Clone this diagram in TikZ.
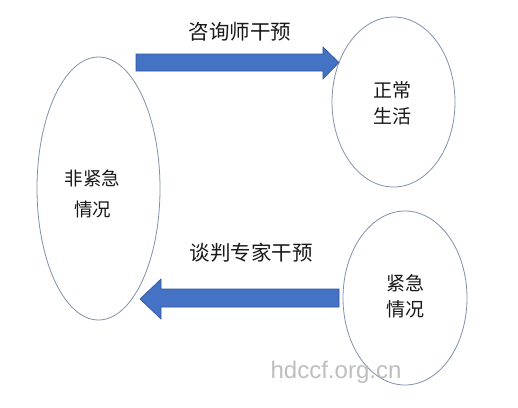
\documentclass[tikz,border=0pt]{standalone}
\usepackage{fontspec}
\newfontfamily\cjk{Noto Sans CJK SC}
\newfontfamily\wmfont{Liberation Sans}
\usetikzlibrary{shapes.geometric,calc}
\definecolor{arrowblue}{HTML}{4472C4}
\definecolor{arrowedge}{HTML}{2F5597}
\definecolor{ellline}{HTML}{8190AB}
\tikzset{
  oval/.style={draw=ellline, line width=0.8pt, ellipse, inner sep=0pt},
  intext/.style={font=\cjk\fontsize{19}{26}\selectfont, align=center, inner sep=0pt, text=black!90},
  arrlabel/.style={font=\cjk\fontsize{20.5}{24}\selectfont, inner sep=0pt, text=black!90},
  blockarrow/.style={fill=arrowblue, draw=arrowedge, line width=0.6pt, line join=miter},
}
\begin{document}
\begin{tikzpicture}[x=1pt,y=-1pt]
\useasboundingbox[fill=white] (0,0) rectangle (518,407);
% ellipses
\node[oval, minimum width=123pt, minimum height=263pt] (nonurgent) at (98.5,188.5) {};
\node[intext, font=\cjk\fontsize{18.5}{31}\selectfont] (nonurgenttext) at (92.5,194) {非紧急\\情况};
\node[oval, minimum width=123pt, minimum height=170pt] (normal) at (393.5,102) {};
\node[intext] (normaltext) at (392,103) {正常\\生活};
\node[oval, minimum width=124pt, minimum height=174pt] (urgent) at (405,298) {};
\node[intext] (urgenttext) at (405,296) {紧急\\情况};
% top arrow
\coordinate (a1s) at (136,62.5);
\coordinate (a1t) at (339,62.5);
\draw[blockarrow] ($(a1s)+(0,-8.5)$) -- (323,54) -- (323,47) -- (a1t) -- (323,79) -- (323,71) -- ($(a1s)+(0,8.5)$) -- cycle;
\node[arrlabel] (lbl1) at (240,32) {咨询师干预};
% bottom arrow
\coordinate (a2s) at (339,298);
\coordinate (a2t) at (140,299);
\draw[blockarrow] ($(a2s)+(0,-9)$) -- (161,289) -- (161,279) -- (a2t) -- (161,319) -- (161,307) -- ($(a2s)+(0,9)$) -- cycle;
\node[arrlabel] (lbl2) at (251,253) {谈判专家干预};
% watermark
\node[font=\wmfont\fontsize{24}{28}\selectfont, text=black!28, opacity=0.9, inner sep=0pt] (wm) at (336,372) {hdccf.org.cn};
\end{tikzpicture}
\end{document}
